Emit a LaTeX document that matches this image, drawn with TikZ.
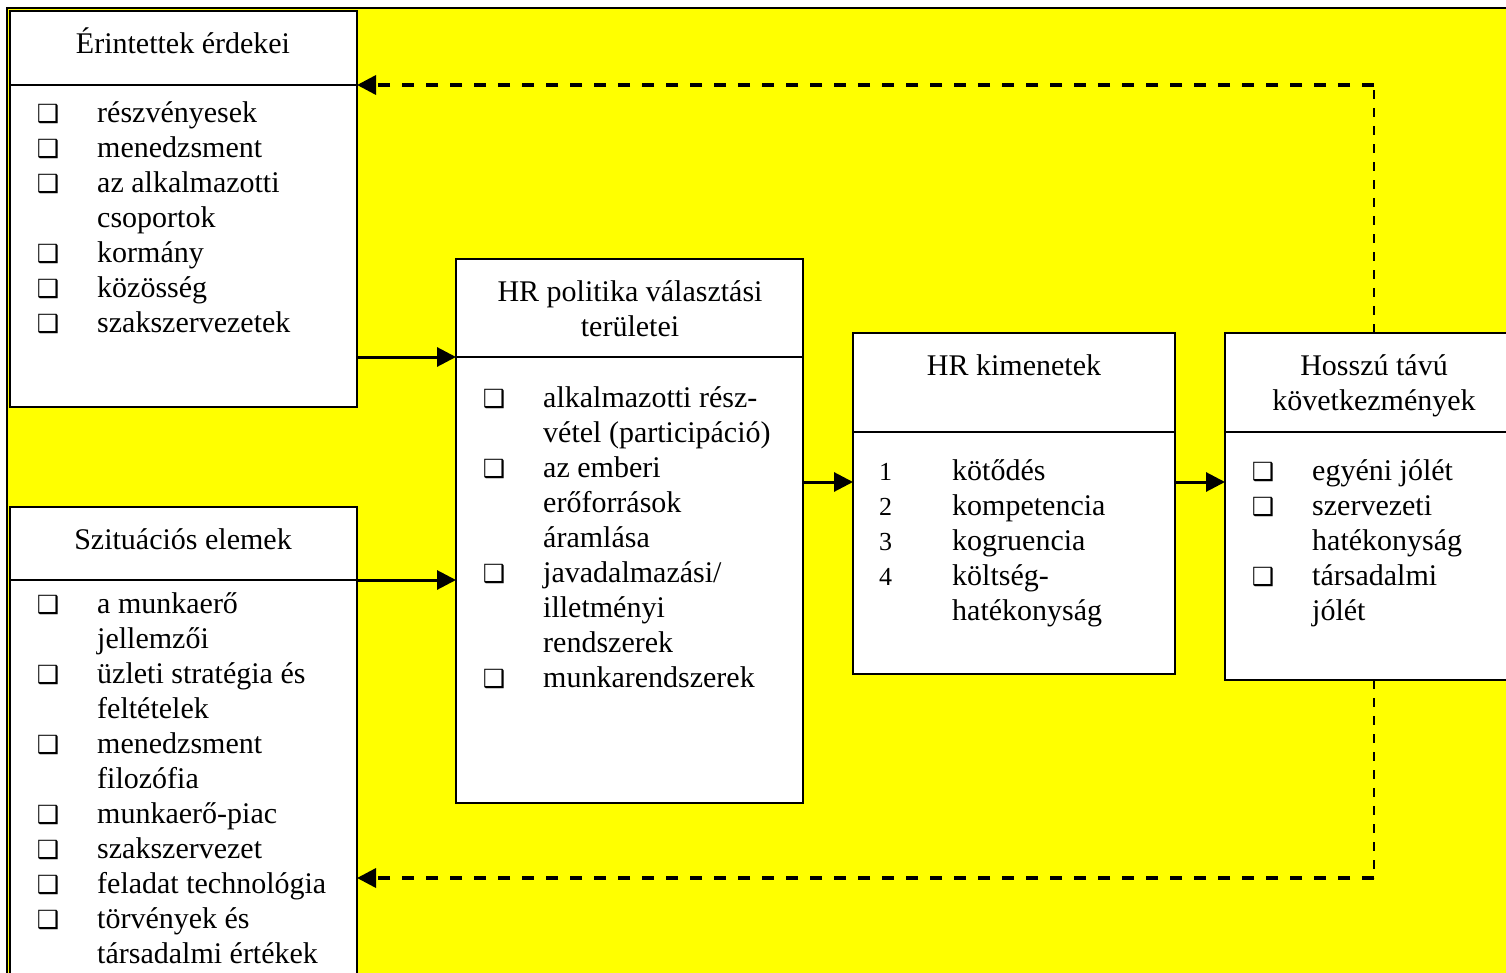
\documentclass[tikz,border=0pt]{standalone}
\usepackage{fontspec}
\setmainfont{Liberation Serif}
\newfontfamily\symfont{DejaVu Sans}
\usetikzlibrary{arrows.meta}
\definecolor{canvas}{RGB}{255,255,0}
\begin{document}
\begin{tikzpicture}[x=1pt,y=-1pt,
  box/.style={draw=black,line width=2.6pt,fill=white,inner sep=0pt,outer sep=0pt,anchor=north west},
  txt/.style={inner sep=0pt,anchor=base west,font=\fontsize{30}{35}\selectfont},
  head/.style={inner sep=0pt,anchor=base,font=\fontsize{30}{35}\selectfont},
  sqbullet/.style={inner sep=0pt,anchor=base,font=\symfont\fontsize{25}{25}\selectfont},
  flow/.style={line width=3pt,-{Triangle[length=19pt,width=19pt]}},
  fbh/.style={line width=3.5pt,dash pattern=on 12pt off 12pt},
  fbv/.style={line width=2.4pt,dash pattern=on 9pt off 9pt},
  backtip/.style={-{Triangle[length=19pt,width=19pt]}},
]
\useasboundingbox (0,0) rectangle (1506,973);
\clip (0,0) rectangle (1506,973);
\fill[white] (0,0) rectangle (1506,973);
\draw[line width=2pt,fill=canvas] (7,8) rectangle (1540,1000);

% boxes: header part and body part
\node[box,minimum width=347,minimum height=74] (b1h) at (10,11) {};
\node[box,minimum width=347,minimum height=322] (b1b) at (10,85) {};
\node[box,minimum width=347,minimum height=73] (b2h) at (10,507) {};
\node[box,minimum width=347,minimum height=420] (b2b) at (10,580) {};
\node[box,minimum width=347,minimum height=98] (b3h) at (456,259) {};
\node[box,minimum width=347,minimum height=446] (b3b) at (456,357) {};
\node[box,minimum width=322,minimum height=99] (b4h) at (853,333) {};
\node[box,minimum width=322,minimum height=242] (b4b) at (853,432) {};
\node[box,minimum width=298,minimum height=99] (b5h) at (1225,333) {};
\node[box,minimum width=298,minimum height=248] (b5b) at (1225,432) {};

% headings
\node[head] (h1) at (183,54) {Érintettek érdekei};
\node[head] (h2) at (183,549) {Szituációs elemek};
\node[head] (h3a) at (630,302) {HR politika választási};
\node[head] (h3b) at (630,337) {területei};
\node[head] (h4) at (1014,375) {HR kimenetek};
\node[head] (h5a) at (1374,375) {Hosszú távú};
\node[head] (h5b) at (1374,410) {következmények};

% list of box 1
\foreach \t [count=\k from 0] in {részvényesek,menedzsment,az alkalmazotti,csoportok,kormány,közösség,szakszervezetek}
  \node[txt] (l1-\k) at (97,123+35*\k) {\t};
\foreach \k in {0,1,2,4,5,6}
  \node[sqbullet] (q1-\k) at (48,123+35*\k) {❑};

% list of box 2
\foreach \t [count=\k from 0] in {a munkaerő,jellemzői,üzleti stratégia és,feltételek,menedzsment,filozófia,munkaerő-piac,szakszervezet,feladat technológia,törvények és,társadalmi értékek}
  \node[txt] (l2-\k) at (97,613+35*\k) {\t};
\foreach \k in {0,2,4,6,7,8,9}
  \node[sqbullet] (q2-\k) at (48,613+35*\k) {❑};

% list of box 3
\foreach \t [count=\k from 0] in {alkalmazotti rész-,vétel (participáció),az emberi,erőforrások,áramlása,javadalmazási/,illetményi,rendszerek,munkarendszerek}
  \node[txt] (l3-\k) at (543,407+35*\k) {\t};
\foreach \k in {0,2,5,8}
  \node[sqbullet] (q3-\k) at (494,407+35*\k) {❑};

% list of box 4
\foreach \t [count=\k from 0] in {kötődés,kompetencia,kogruencia,költség-,hatékonyság}
  \node[txt] (l4-\k) at (952,480+35*\k) {\t};
\foreach \n [count=\k from 0] in {1,2,3,4}
  \node[txt,font=\fontsize{26}{35}\selectfont] (n4-\k) at (879,480+35*\k) {\n};

% list of box 5
\foreach \t [count=\k from 0] in {egyéni jólét,szervezeti,hatékonyság,társadalmi,jólét}
  \node[txt] (l5-\k) at (1312,480+35*\k) {\t};
\foreach \k in {0,1,3}
  \node[sqbullet] (q5-\k) at (1263,480+35*\k) {❑};

% forward flow
\coordinate (mid) at (0,482);
\coordinate (low) at (0,878);
\draw[flow] (b1b.east |- b3h.south) -- (b3h.south west);
\draw[flow] (b2h.south east) -- (b3b.west |- b2h.south east);
\draw[flow] (b3b.east |- mid) -- (b4b.west |- mid);
\draw[flow] (b4b.east |- mid) -- (b5b.west |- mid);

% feedback loops
\draw[fbv] (b5h.north) -- (b5h.north |- b1h.south);
\draw[fbh,backtip] (b5h.north |- b1h.south) -- (b1h.south east);
\draw[fbv] (b5b.south) -- (b5b.south |- low);
\draw[fbh,backtip] (b5b.south |- low) -- (b2b.east |- low);
\end{tikzpicture}
\end{document}
